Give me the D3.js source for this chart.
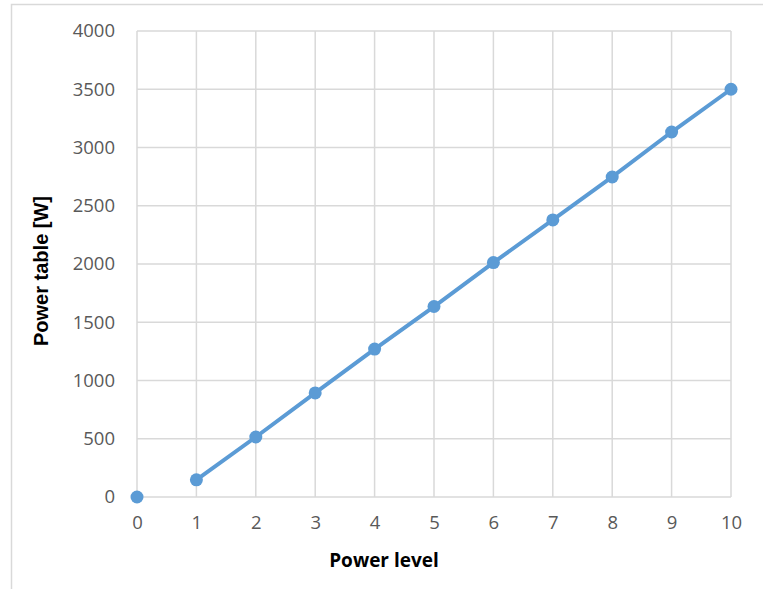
<!DOCTYPE html>
<html>
<head>
<meta charset="utf-8">
<script src="https://cdn.jsdelivr.net/npm/d3@7"></script>
<style>
  body { margin: 0; background: #fff; }
  text { font-family: "Open Sans", sans-serif; }
</style>
</head>
<body>
<div id="chart"></div>
<script>
// data
var levels = [0, 1, 2, 3, 4, 5, 6, 7, 8, 9, 10];
var power = [0, 147, 515, 893, 1270, 1635, 2012, 2378, 2747, 3133, 3500];
var yTicks = [0, 500, 1000, 1500, 2000, 2500, 3000, 3500, 4000];

const W = 763, H = 589;
const plotLeft = 137, plotRight = 731, plotTop = 31, plotBottom = 497;

const svg = d3.select("#chart").append("svg")
    .attr("width", W)
    .attr("height", H);

// outer chart frame (only top and left edges are in view)
svg.append("path")
    .attr("d", "M11.5," + H + "V4.5H" + W)
    .attr("fill", "none")
    .attr("stroke", "#d9d9d9")
    .attr("stroke-width", 1.5);

const x = d3.scaleLinear().domain([0, 10]).range([plotLeft, plotRight]);
const y = d3.scaleLinear().domain([0, 4000]).range([plotBottom, plotTop]);

//----------------------------GRID-------------------------------//
svg.append("g")
    .selectAll("line")
    .data(yTicks)
    .join("line")
    .attr("x1", plotLeft).attr("x2", plotRight)
    .attr("y1", d => y(d)).attr("y2", d => y(d))
    .attr("stroke", "#d9d9d9")
    .attr("stroke-width", 1.5);

svg.append("g")
    .selectAll("line")
    .data(levels)
    .join("line")
    .attr("x1", d => x(d)).attr("x2", d => x(d))
    .attr("y1", plotTop).attr("y2", plotBottom)
    .attr("stroke", "#d9d9d9")
    .attr("stroke-width", 1.5);

//----------------------------AXES-------------------------------//
const yaxis = d3.axisLeft(y).tickValues(yTicks).tickFormat(d3.format("d"))
    .tickSize(0).tickPadding(22);
const xaxis = d3.axisBottom(x).tickValues(levels).tickFormat(d3.format("d"))
    .tickSize(0).tickPadding(19);

const gy = svg.append("g")
    .attr("transform", "translate(" + plotLeft + ",0)")
    .call(yaxis);
const gx = svg.append("g")
    .attr("transform", "translate(0," + plotBottom + ")")
    .call(xaxis);

[gx, gy].forEach(function(g) {
    g.select(".domain").remove();
    g.selectAll("text")
        .attr("fill", "#595959")
        .style("font-size", "18.5px");
});

// x title sits at the centre of the whole chart, not the plot area
svg.append("text")
    .attr("x", 384)
    .attr("y", 567)
    .attr("text-anchor", "middle")
    .style("font-size", "19px")
    .style("font-weight", "bold")
    .text("Power level");

svg.append("text")
    .attr("transform", "translate(48," + ((plotTop + plotBottom) / 2 + 7) + ") rotate(-90)")
    .attr("text-anchor", "middle")
    .style("font-family", "'Liberation Sans', Arial, sans-serif")
    .style("font-size", "20px")
    .style("font-weight", "bold")
    .text("Power table [W]");

//----------------------------LINE-------------------------------//
const pts = levels.map((d, i) => ({ level: d, value: power[i] }));

// the reference line starts at level 1; level 0 is a lone marker
const line = d3.line()
    .x(d => x(d.level))
    .y(d => y(d.value))
    .defined(d => d.level > 0);

svg.append("path")
    .attr("fill", "none")
    .attr("stroke", "#5b9bd5")
    .attr("stroke-width", 4)
    .attr("stroke-linejoin", "round")
    .attr("d", line(pts));

svg.append("g")
    .selectAll("circle")
    .data(pts)
    .join("circle")
    .attr("cx", d => x(d.level))
    .attr("cy", d => y(d.value))
    .attr("r", 6.5)
    .attr("fill", "#5b9bd5");
</script>
</body>
</html>
